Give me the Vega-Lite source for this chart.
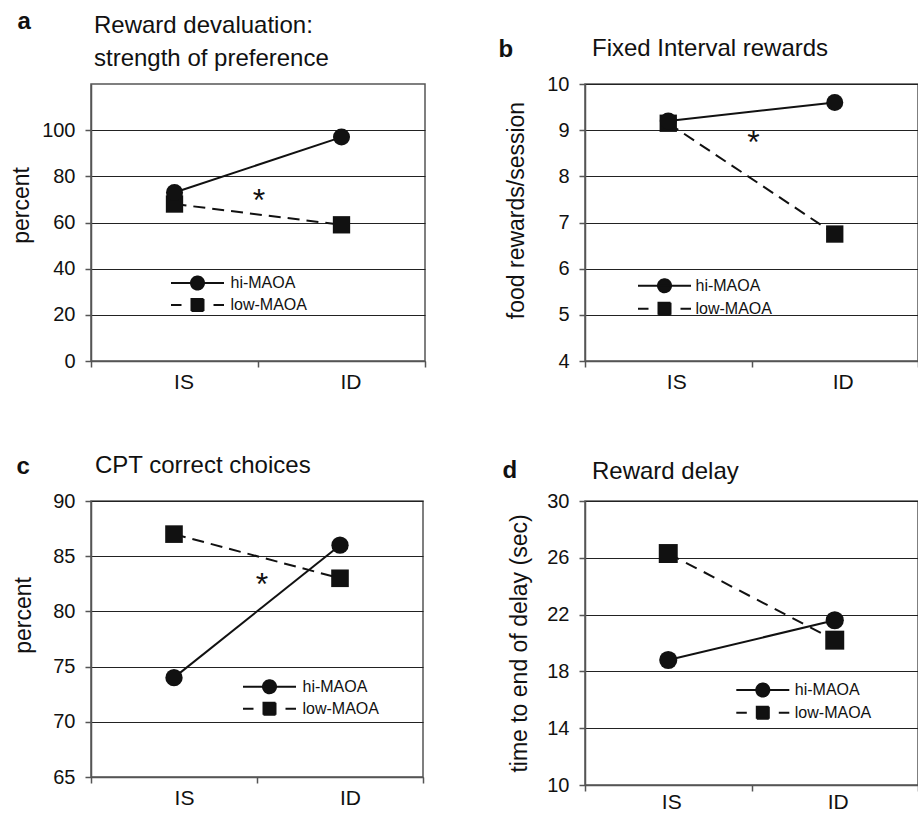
{
  "$schema": "https://vega.github.io/schema/vega-lite/v6.json",
  "padding": {"left": 9, "top": 8, "right": 0, "bottom": 0},
  "columns": 2,
  "bounds": "flush",
  "spacing": {"row": 140, "column": 160},
  "resolve": {"scale": {"opacity": "independent"}, "legend": {"opacity": "independent"}},
  "concat": [
    {
      "width": 334, "height": 277,
      "title": {"text": ["Reward devaluation:", "strength of preference"], "dx": 3, "offset": -62, "lineHeight": 33},
      "layer": [
        {
          "data": {"values": [
            {"cond": "IS", "group": "low-MAOA", "value": 68},
            {"cond": "ID", "group": "low-MAOA", "value": 59},
            {"cond": "IS", "group": "hi-MAOA", "value": 73},
            {"cond": "ID", "group": "hi-MAOA", "value": 97}
          ]},
          "layer": [
            {
              "transform": [{"filter": "datum.group === 'low-MAOA'"}],
              "mark": {"type": "line", "color": "#111", "strokeWidth": 2, "strokeDash": [12, 7]},
              "encoding": {
                "x": {"field": "cond", "type": "nominal", "bandPosition": 0.5, "sort": ["IS", "ID"], "scale": {"type": "band", "domain": ["IS", "ID"], "paddingInner": 0, "paddingOuter": 0},
                      "axis": {"title": "a", "titleX": -74, "titleY": -333, "labelOffset": 9}},
                "y": {"field": "value", "type": "quantitative", "scale": {"domain": [0, 120], "nice": false, "zero": false},
                      "axis": {"values": [0, 20, 40, 60, 80, 100], "title": "percent", "titlePadding": 8, "titleY": 121}}
              }
            },
            {
              "transform": [{"filter": "datum.group === 'hi-MAOA'"}],
              "mark": {"type": "line", "color": "#111", "strokeWidth": 2},
              "encoding": {
                "x": {"field": "cond", "type": "nominal", "bandPosition": 0.5, "sort": ["IS", "ID"]},
                "y": {"field": "value", "type": "quantitative"},
                "opacity": {"field": "group", "type": "nominal",
                  "scale": {"domain": ["hi-MAOA", "low-MAOA"], "range": [1, 1]},
                  "legend": {"orient": "none", "legendX": 95.5, "legendY": 188, "symbolSize": 400, "labelOffset": 22, "rowPadding": 0,
                    "encode": {"symbols": {"update": {
                      "shape": {"signal": "datum.value === 'hi-MAOA' ? 'M-2.65,0H2.65M0.65,0A0.65,0.65,0,1,1,-0.65,0A0.65,0.65,0,1,1,0.65,0Z' : 'M-2.65,0H-1.6M1.6,0H2.65M-0.6,-0.6H0.6V0.6H-0.6Z'"},
                      "strokeDash": {"value": [1, 0]}, "fill": {"value": "#111"}, "stroke": {"value": "#111"}, "strokeWidth": {"value": 2}}}}}}
              }
            },
            {
              "transform": [{"filter": "datum.group === 'low-MAOA'"}],
              "mark": {"type": "point", "shape": "square", "filled": true, "color": "#111", "opacity": 1, "size": 300},
              "encoding": {
                "x": {"field": "cond", "type": "nominal", "bandPosition": 0.5, "sort": ["IS", "ID"]},
                "y": {"field": "value", "type": "quantitative"}
              }
            },
            {
              "transform": [{"filter": "datum.group === 'hi-MAOA'"}],
              "mark": {"type": "point", "shape": "circle", "filled": true, "color": "#111", "opacity": 1, "size": 290},
              "encoding": {
                "x": {"field": "cond", "type": "nominal", "bandPosition": 0.5, "sort": ["IS", "ID"]},
                "y": {"field": "value", "type": "quantitative"}
              }
            }
          ]
        },
        {
          "data": {"values": [{"cond": "IS", "value": 69.2, "label": "*"}]},
          "mark": {"type": "text", "fontSize": 32, "baseline": "middle", "color": "#111", "dx": 1},
          "encoding": {
            "x": {"field": "cond", "type": "nominal", "bandPosition": 1},
            "y": {"field": "value", "type": "quantitative"},
            "text": {"field": "label"}
          }
        }
      ]
    },
    {
      "width": 333, "height": 277,
      "title": {"text": "Fixed Interval rewards", "dx": 7, "offset": -24},
      "layer": [
        {
          "data": {"values": [
            {"cond": "IS", "group": "low-MAOA", "value": 9.15},
            {"cond": "ID", "group": "low-MAOA", "value": 6.75},
            {"cond": "IS", "group": "hi-MAOA", "value": 9.2},
            {"cond": "ID", "group": "hi-MAOA", "value": 9.6}
          ]},
          "layer": [
            {
              "transform": [{"filter": "datum.group === 'low-MAOA'"}],
              "mark": {"type": "line", "color": "#111", "strokeWidth": 2, "strokeDash": [12, 7]},
              "encoding": {
                "x": {"field": "cond", "type": "nominal", "bandPosition": 0.5, "sort": ["IS", "ID"], "scale": {"type": "band", "domain": ["IS", "ID"], "paddingInner": 0, "paddingOuter": 0},
                      "axis": {"title": "b", "titleX": -87, "titleY": -305, "labelOffset": 8}},
                "y": {"field": "value", "type": "quantitative", "scale": {"domain": [4, 10], "nice": false, "zero": false},
                      "axis": {"values": [4, 5, 6, 7, 8, 9, 10], "title": "food rewards/session", "titlePadding": 18, "titleY": 126}}
              }
            },
            {
              "transform": [{"filter": "datum.group === 'hi-MAOA'"}],
              "mark": {"type": "line", "color": "#111", "strokeWidth": 2},
              "encoding": {
                "x": {"field": "cond", "type": "nominal", "bandPosition": 0.5, "sort": ["IS", "ID"]},
                "y": {"field": "value", "type": "quantitative"},
                "opacity": {"field": "group", "type": "nominal",
                  "scale": {"domain": ["hi-MAOA", "low-MAOA"], "range": [1, 1]},
                  "legend": {"orient": "none", "legendX": 68.5, "legendY": 190.7, "symbolSize": 400, "labelOffset": 20, "rowPadding": 1,
                    "encode": {"symbols": {"update": {
                      "shape": {"signal": "datum.value === 'hi-MAOA' ? 'M-2.65,0H2.65M0.65,0A0.65,0.65,0,1,1,-0.65,0A0.65,0.65,0,1,1,0.65,0Z' : 'M-2.65,0H-1.6M1.6,0H2.65M-0.6,-0.6H0.6V0.6H-0.6Z'"},
                      "strokeDash": {"value": [1, 0]}, "fill": {"value": "#111"}, "stroke": {"value": "#111"}, "strokeWidth": {"value": 2}}}}}}
              }
            },
            {
              "transform": [{"filter": "datum.group === 'low-MAOA'"}],
              "mark": {"type": "point", "shape": "square", "filled": true, "color": "#111", "opacity": 1, "size": 300},
              "encoding": {
                "x": {"field": "cond", "type": "nominal", "bandPosition": 0.5, "sort": ["IS", "ID"]},
                "y": {"field": "value", "type": "quantitative"}
              }
            },
            {
              "transform": [{"filter": "datum.group === 'hi-MAOA'"}],
              "mark": {"type": "point", "shape": "circle", "filled": true, "color": "#111", "opacity": 1, "size": 290},
              "encoding": {
                "x": {"field": "cond", "type": "nominal", "bandPosition": 0.5, "sort": ["IS", "ID"]},
                "y": {"field": "value", "type": "quantitative"}
              }
            }
          ]
        },
        {
          "data": {"values": [{"cond": "IS", "value": 8.73, "label": "*"}]},
          "mark": {"type": "text", "fontSize": 32, "baseline": "middle", "color": "#111", "dx": 2},
          "encoding": {
            "x": {"field": "cond", "type": "nominal", "bandPosition": 1},
            "y": {"field": "value", "type": "quantitative"},
            "text": {"field": "label"}
          }
        }
      ]
    },
    {
      "width": 332, "height": 276,
      "title": {"text": "CPT correct choices", "dx": 4, "offset": -24},
      "layer": [
        {
          "data": {"values": [
            {"cond": "IS", "group": "low-MAOA", "value": 87},
            {"cond": "ID", "group": "low-MAOA", "value": 83},
            {"cond": "IS", "group": "hi-MAOA", "value": 74},
            {"cond": "ID", "group": "hi-MAOA", "value": 86}
          ]},
          "layer": [
            {
              "transform": [{"filter": "datum.group === 'low-MAOA'"}],
              "mark": {"type": "line", "color": "#111", "strokeWidth": 2, "strokeDash": [12, 7]},
              "encoding": {
                "x": {"field": "cond", "type": "nominal", "bandPosition": 0.5, "sort": ["IS", "ID"], "scale": {"type": "band", "domain": ["IS", "ID"], "paddingInner": 0, "paddingOuter": 0},
                      "axis": {"title": "c", "titleX": -75, "titleY": -304, "labelOffset": 10}},
                "y": {"field": "value", "type": "quantitative", "scale": {"domain": [65, 90], "nice": false, "zero": false},
                      "axis": {"values": [65, 70, 75, 80, 85, 90], "title": "percent", "titlePadding": 17, "titleY": 114}}
              }
            },
            {
              "transform": [{"filter": "datum.group === 'hi-MAOA'"}],
              "mark": {"type": "line", "color": "#111", "strokeWidth": 2},
              "encoding": {
                "x": {"field": "cond", "type": "nominal", "bandPosition": 0.5, "sort": ["IS", "ID"]},
                "y": {"field": "value", "type": "quantitative"},
                "opacity": {"field": "group", "type": "nominal",
                  "scale": {"domain": ["hi-MAOA", "low-MAOA"], "range": [1, 1]},
                  "legend": {"orient": "none", "legendX": 167.5, "legendY": 174.7, "symbolSize": 400, "labelOffset": 22, "rowPadding": 0,
                    "encode": {"symbols": {"update": {
                      "shape": {"signal": "datum.value === 'hi-MAOA' ? 'M-2.65,0H2.65M0.65,0A0.65,0.65,0,1,1,-0.65,0A0.65,0.65,0,1,1,0.65,0Z' : 'M-2.65,0H-1.6M1.6,0H2.65M-0.6,-0.6H0.6V0.6H-0.6Z'"},
                      "strokeDash": {"value": [1, 0]}, "fill": {"value": "#111"}, "stroke": {"value": "#111"}, "strokeWidth": {"value": 2}}}}}}
              }
            },
            {
              "transform": [{"filter": "datum.group === 'low-MAOA'"}],
              "mark": {"type": "point", "shape": "square", "filled": true, "color": "#111", "opacity": 1, "size": 310},
              "encoding": {
                "x": {"field": "cond", "type": "nominal", "bandPosition": 0.5, "sort": ["IS", "ID"]},
                "y": {"field": "value", "type": "quantitative"}
              }
            },
            {
              "transform": [{"filter": "datum.group === 'hi-MAOA'"}],
              "mark": {"type": "point", "shape": "circle", "filled": true, "color": "#111", "opacity": 1, "size": 300},
              "encoding": {
                "x": {"field": "cond", "type": "nominal", "bandPosition": 0.5, "sort": ["IS", "ID"]},
                "y": {"field": "value", "type": "quantitative"}
              }
            }
          ]
        },
        {
          "data": {"values": [{"cond": "IS", "value": 82.4, "label": "*"}]},
          "mark": {"type": "text", "fontSize": 32, "baseline": "middle", "color": "#111", "dx": 5},
          "encoding": {
            "x": {"field": "cond", "type": "nominal", "bandPosition": 1},
            "y": {"field": "value", "type": "quantitative"},
            "text": {"field": "label"}
          }
        }
      ]
    },
    {
      "width": 333, "height": 284,
      "title": {"text": "Reward delay", "dx": 7, "offset": -26},
      "data": {"values": [
        {"cond": "IS", "group": "low-MAOA", "value": 26.3},
        {"cond": "ID", "group": "low-MAOA", "value": 20.2},
        {"cond": "IS", "group": "hi-MAOA", "value": 18.8},
        {"cond": "ID", "group": "hi-MAOA", "value": 21.6}
      ]},
      "layer": [
        {
          "transform": [{"filter": "datum.group === 'low-MAOA'"}],
          "mark": {"type": "line", "color": "#111", "strokeWidth": 2, "strokeDash": [12, 8]},
          "encoding": {
            "x": {"field": "cond", "type": "nominal", "bandPosition": 0.5, "sort": ["IS", "ID"], "scale": {"type": "band", "domain": ["IS", "ID"], "paddingInner": 0, "paddingOuter": 0},
                  "axis": {"title": "d", "titleX": -83, "titleY": -308, "labelOffset": 3, "labelPadding": 0}},
            "y": {"field": "value", "type": "quantitative", "scale": {"domain": [10, 30], "nice": false, "zero": false},
                  "axis": {"values": [10, 14, 18, 22, 26, 30], "title": "time to end of delay (sec)", "titlePadding": 15}}
          }
        },
        {
          "transform": [{"filter": "datum.group === 'hi-MAOA'"}],
          "mark": {"type": "line", "color": "#111", "strokeWidth": 2},
          "encoding": {
            "x": {"field": "cond", "type": "nominal", "bandPosition": 0.5, "sort": ["IS", "ID"]},
            "y": {"field": "value", "type": "quantitative"},
            "opacity": {"field": "group", "type": "nominal",
              "scale": {"domain": ["hi-MAOA", "low-MAOA"], "range": [1, 1]},
              "legend": {"orient": "none", "legendX": 166.8, "legendY": 178, "symbolSize": 400, "labelOffset": 21, "rowPadding": 0.7,
                "encode": {"symbols": {"update": {
                  "shape": {"signal": "datum.value === 'hi-MAOA' ? 'M-2.65,0H2.65M0.65,0A0.65,0.65,0,1,1,-0.65,0A0.65,0.65,0,1,1,0.65,0Z' : 'M-2.65,0H-1.6M1.6,0H2.65M-0.6,-0.6H0.6V0.6H-0.6Z'"},
                  "strokeDash": {"value": [1, 0]}, "fill": {"value": "#111"}, "stroke": {"value": "#111"}, "strokeWidth": {"value": 2}}}}}}
          }
        },
        {
          "transform": [{"filter": "datum.group === 'low-MAOA'"}],
          "mark": {"type": "point", "shape": "square", "filled": true, "color": "#111", "opacity": 1, "size": 360},
          "encoding": {
            "x": {"field": "cond", "type": "nominal", "bandPosition": 0.5, "sort": ["IS", "ID"]},
            "y": {"field": "value", "type": "quantitative"}
          }
        },
        {
          "transform": [{"filter": "datum.group === 'hi-MAOA'"}],
          "mark": {"type": "point", "shape": "circle", "filled": true, "color": "#111", "opacity": 1, "size": 330},
          "encoding": {
            "x": {"field": "cond", "type": "nominal", "bandPosition": 0.5, "sort": ["IS", "ID"]},
            "y": {"field": "value", "type": "quantitative"}
          }
        }
      ]
    }
  ],
  "config": {
    "font": "Liberation Sans",
    "background": "white",
    "view": {"stroke": "#555", "strokeWidth": 1.5},
    "title": {"font": "Liberation Sans", "fontSize": 24, "fontWeight": "normal", "anchor": "start", "frame": "group", "color": "#111"},
    "axis": {
      "domainColor": "#555", "domainWidth": 1.5, "tickColor": "#555", "tickWidth": 1.5, "tickSize": 6,
      "labelFont": "Liberation Sans", "labelColor": "#111", "titleFont": "Liberation Sans", "titleColor": "#111", "titleFontWeight": "normal",
      "gridColor": "#222", "gridWidth": 1, "gridOpacity": 1
    },
    "axisX": {"grid": false, "tickBand": "extent", "labelAngle": 0, "labelFontSize": 21, "labelPadding": 4,
      "titleAlign": "left", "titleBaseline": "alphabetic", "titleFontWeight": "bold", "titleFontSize": 24, "titleAngle": 0},
    "axisY": {"grid": true, "labelFontSize": 20, "labelPadding": 10, "titleFontSize": 23},
    "legend": {"title": null, "padding": 0, "labelFont": "Liberation Sans", "labelFontSize": 16, "labelColor": "#111", "symbolStrokeWidth": 2, "symbolStrokeColor": "#111", "symbolFillColor": "#111"}
  }
}
